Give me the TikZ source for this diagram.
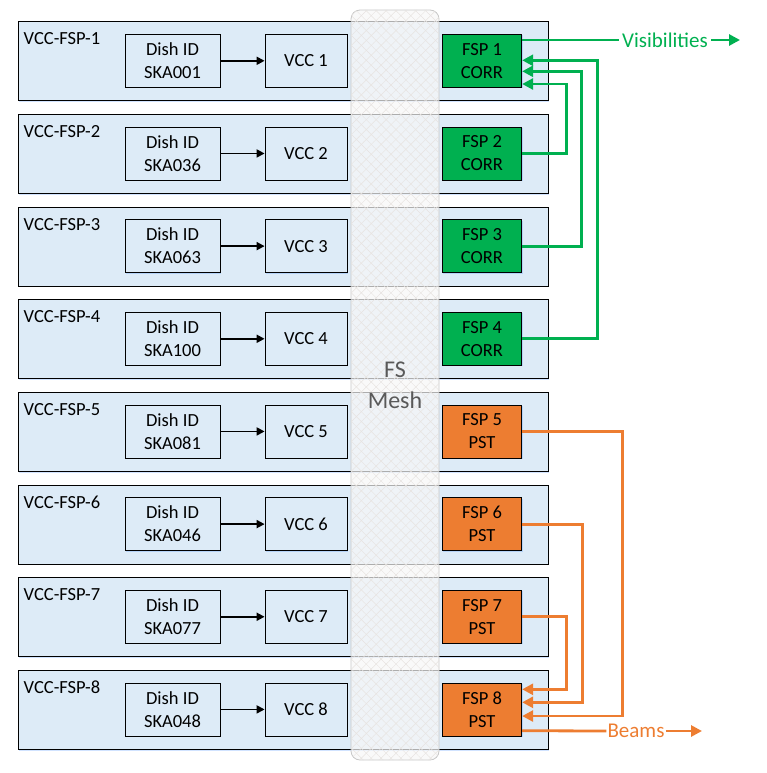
\documentclass[tikz,border=0pt]{standalone}
\usepackage{fontspec}
\setmainfont{Carlito}
\usetikzlibrary{arrows.meta,calc,patterns.meta,shadows}
\definecolor{rowblue}{RGB}{221,235,247}
\definecolor{corrgreen}{RGB}{0,176,80}
\definecolor{pstorange}{RGB}{237,125,49}
\definecolor{meshtxt}{RGB}{89,89,89}

\begin{document}
\begin{tikzpicture}[x=1pt, y=-1pt,
  row/.style={draw=black, line width=1pt, fill=rowblue, minimum width=530pt,
              minimum height=79pt, inner sep=0,
              drop shadow={shadow xshift=1.2pt, shadow yshift=-1.2pt, fill=blue!60!cyan, opacity=0.18}},
  rowlbl/.style={anchor=base west, inner sep=0, font={\fontsize{18.5pt}{23pt}\selectfont}},
  unit/.style={draw=black, line width=0.8pt, fill=rowblue, minimum height=53pt, inner sep=0,
               align=center, font={\fontsize{18.5pt}{23pt}\selectfont},
               drop shadow={shadow xshift=1pt, shadow yshift=-1pt, fill=blue!60!cyan, opacity=0.18}},
  dishbox/.style={unit, minimum width=95pt},
  vccbox/.style={unit, minimum width=82pt},
  corr/.style={unit, minimum width=79.5pt, fill=corrgreen},
  pst/.style={unit, minimum width=79.5pt, fill=pstorange},
  mesh/.style={draw=black!22, line width=0.8pt, rounded corners=9pt, minimum width=88pt,
               minimum height=750pt, inner sep=0, fill=black!3, fill opacity=0.7,
               postaction={fill opacity=1, pattern={Lines[angle=45, distance=7pt, line width=0.45pt]},
                           pattern color=orange!20!black!12},
               postaction={fill opacity=1, pattern={Lines[angle=-45, distance=7pt, line width=0.45pt]},
                           pattern color=orange!20!black!12}},
  meshlbl/.style={align=center, text=meshtxt, font={\fontsize{24pt}{31pt}\selectfont}},
  sig/.style={line width=1.8pt, -{Triangle[length=8pt, width=8pt]}},
  corrline/.style={draw=corrgreen, line width=2.8pt, -{Triangle[length=11pt, width=11pt]}},
  pstline/.style={draw=pstorange, line width=2.8pt, -{Triangle[length=11pt, width=11pt]}},
  corrlbl/.style={text=corrgreen, inner xsep=3pt, font={\fontsize{21pt}{25pt}\selectfont}},
  pstlbl/.style={text=pstorange, inner xsep=1pt, font={\fontsize{21pt}{25pt}\selectfont}},
]
\useasboundingbox (0,0) rectangle (766,773);
% ---- eight VCC-FSP rows
\foreach \i/\dish in {1/001,2/036,3/063,4/100,5/081,6/046,7/077,8/048} {
  \pgfmathsetmacro{\yc}{60.8+(\i-1)*92.66}
  \node[row] (row\i) at (283, \yc+0.4) {};
  \node[rowlbl] (lbl\i) at (23.5, \yc-15.8) {VCC-FSP-\i};
  \node[dishbox] (dish\i) at (172.5, \yc) {Dish ID\\SKA\dish};
  \node[vccbox] (vcc\i) at (306, \yc) {VCC \i};
  \draw[sig] (dish\i) -- (vcc\i);
  \ifnum\i<5
    \node[corr] (fsp\i) at (482, \yc) {FSP \i\\CORR};
  \else
    \node[pst] (fsp\i) at (482, \yc) {FSP \i\\PST};
  \fi
}
% ---- frequency slice mesh lies over the rows
\node[mesh] (mesh) at (395,385) {};
\node[meshlbl] (meshtext) at (395,385) {FS\\Mesh};
% ---- correlator outputs gathered in FSP 1
\draw[corrline] (fsp4.east) -- ++(75,0) |- ($(fsp1.east)+(0,-0.5)$);
\draw[corrline] (fsp3.east) -- ++(59,0) |- ($(fsp1.east)+(0,10.5)$);
\draw[corrline] (fsp2.east) -- ++(44.3,0) |- ($(fsp1.east)+(0,23.2)$);
\node[corrlbl] (vis) at (665,40) {Visibilities};
\coordinate (visend) at (740,40);
\draw[corrline, -] ($(fsp1.east)+(0,-20.8)$) -- (vis.west);
\draw[corrline] (vis.east) -- (visend);
% ---- pulsar search outputs gathered in FSP 8
\draw[pstline] (fsp5.east) -- ++(100,0) |- ($(fsp8.east)+(0,6.6)$);
\draw[pstline] (fsp6.east) -- ++(60,0) |- ($(fsp8.east)+(0,-7.1)$);
\draw[pstline] (fsp7.east) -- ++(44.3,0) |- ($(fsp8.east)+(0,-20.1)$);
\node[pstlbl] (beams) at (636,731) {Beams};
\coordinate (beamsend) at (702,731);
\draw[pstline, -] ($(fsp8.east)+(0,21.3)$) -- (beams.west);
\draw[pstline] (beams.east) -- (beamsend);
\end{tikzpicture}
\end{document}
